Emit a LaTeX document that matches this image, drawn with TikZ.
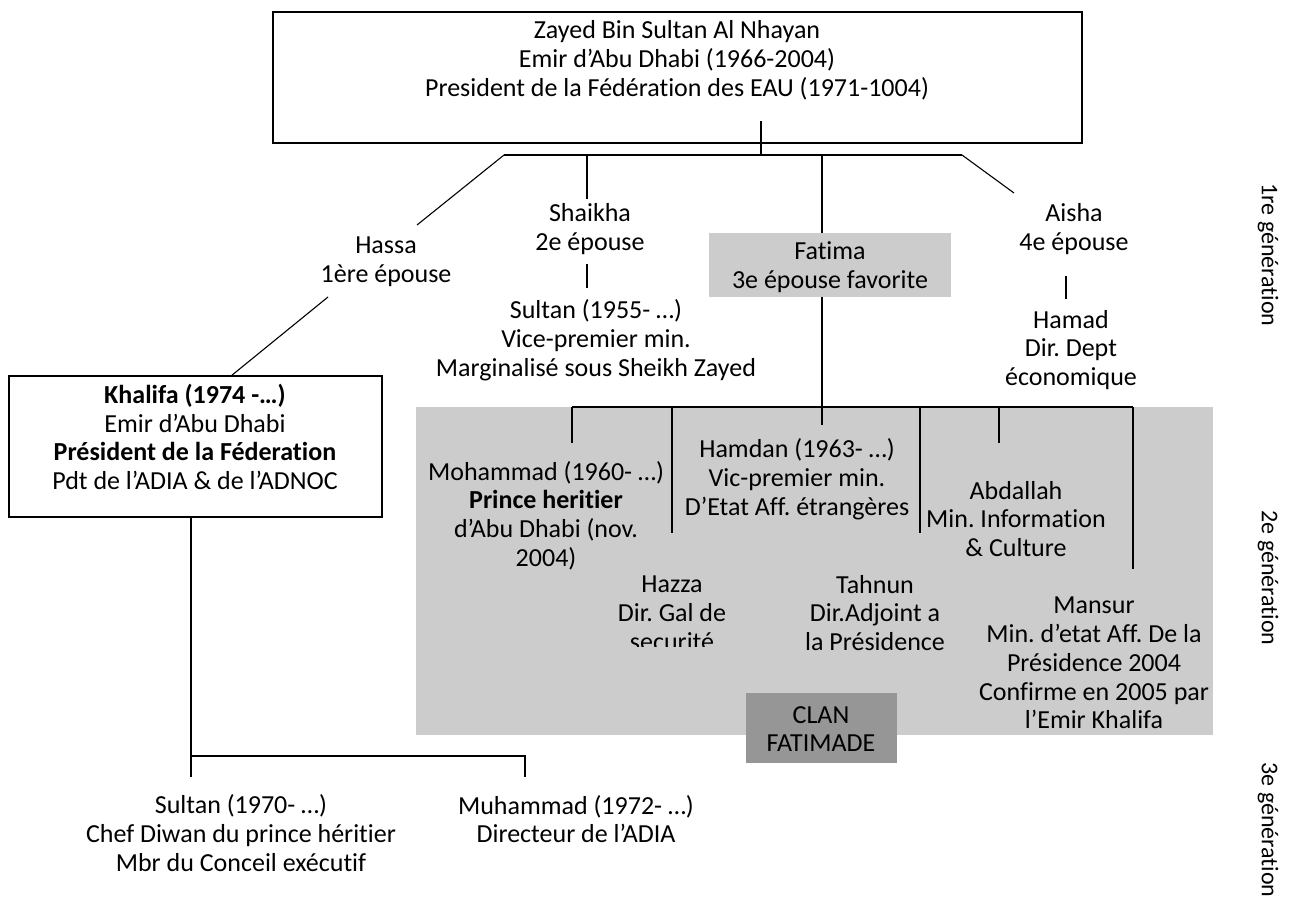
\documentclass[tikz,border=0pt]{standalone}
\usepackage{fontspec}
\setmainfont{Carlito}[Ligatures={TeX,CommonOff}]
\definecolor{clanlight}{RGB}{204,204,204}
\definecolor{clandark}{RGB}{150,150,150}
\newcommand{\txtfont}{\fontsize{26}{28.8}\selectfont\frenchspacing}
\newcommand{\genfont}{\fontsize{24}{26}\selectfont}
\tikzset{
  txt/.style={align=center, inner sep=0pt, font=\txtfont},
  frame/.style={draw, line width=1.7pt, inner sep=0pt},
  conn/.style={line width=1.1pt},
  vlabel/.style={rotate=-90, anchor=center, inner sep=0pt, font=\genfont}
}
\begin{document}
\begin{tikzpicture}[x=1pt,y=-1pt]
\useasboundingbox (0,0) rectangle (1299,918);
% ---- backgrounds
\node[fill=clanlight, minimum width=797pt, minimum height=328pt, inner sep=0pt] (clan) at (814.5,571) {};
\node[fill=clanlight, minimum width=242pt, minimum height=64pt, inner sep=0pt] (fatimabox) at (830,265) {};
% ---- top box
\node[frame, minimum width=809pt, minimum height=131pt] (zayed) at (677.5,77.5) {};
\node[txt] (zayedtxt) at (677,60) {Zayed Bin Sultan Al Nhayan\\Emir d’Abu Dhabi (1966-2004)\\President de la Fédération des EAU (1971-1004)};
\coordinate (zstem) at (761,121);
\coordinate (barL) at (504,155);
\coordinate (barR) at (962,155);
\draw[conn] (zstem) -- (zstem |- barL);
\draw[conn] (barL) -- (barR);
% ---- first generation
\coordinate (hassatop) at (417,225);
\node[txt] (hassa) at (386,262) {Hassa\\1ère épouse};
\coordinate (hassabot) at (328,297);
\draw[conn] (barL) -- (hassatop);

\coordinate (shaikhatop) at (587,199);
\node[txt] (shaikha) at (590,229) {Shaikha\\2e épouse};
\draw[conn] (shaikhatop |- barL) -- (shaikhatop);
\coordinate (sultanAtop) at (587,264);
\coordinate (sultanAbot) at (587,288);
\draw[conn] (sultanAtop) -- (sultanAbot);
\node[txt] (sultanA) at (596,340) {Sultan (1955- …)\\Vice-premier min.\\Marginalisé sous Sheikh Zayed};

\node[txt] (fatima) at (830,267) {Fatima\\3e épouse favorite};
\coordinate (fatbar) at (822,155);
\draw[conn] (fatbar) -- (fatimabox.north -| fatbar);
\coordinate (fatlow) at (822,425);
\draw[conn] (fatimabox.south -| fatbar) -- (fatlow);

\coordinate (aishatop) at (1014,193);
\draw[conn] (barR) -- (aishatop);
\node[txt] (aisha) at (1074,229) {Aisha\\4e épouse};
\coordinate (hamadtop) at (1066,276);
\coordinate (hamadbot) at (1066,299);
\draw[conn] (hamadtop) -- (hamadbot);
\node[txt] (hamad) at (1071,350) {Hamad\\Dir. Dept\\économique};

% ---- Khalifa
\node[frame, minimum width=373pt, minimum height=141pt] (khalifa) at (195.5,446.5) {};
\node[txt] (khalifatxt) at (195,437) {\textbf{Khalifa (1974 -…)}\\Emir d’Abu Dhabi\\\textbf{Président de la Féderation}\\Pdt de l’ADIA \& de l’ADNOC};
\draw[conn] (hassabot) -- (khalifa.north -| 232,0);
\coordinate (kbarL) at (191,756);
\coordinate (kbarR) at (525,756);
\draw[conn] (khalifa.south -| kbarL) -- (191,777) coordinate (kstubL);
\draw[conn] (kbarL) -- (kbarR) -- (525,777) coordinate (kstubR);
\node[txt] (sultanB) at (241,833) {Sultan (1970- …)\\Chef Diwan du prince héritier\\Mbr du Conceil exécutif};
\node[txt] (muhammad) at (576,819) {Muhammad (1972- …)\\Directeur de l’ADIA};

% ---- second generation (clan)
\coordinate (cbarL) at (572,407);
\coordinate (cbarR) at (1133,407);
\draw[conn] (cbarL) -- (cbarR);
\draw[conn] (cbarL) -- (572,443) coordinate (mohtop);
\draw[conn] (672,407) -- (672,533) coordinate (hazzatop);
\draw[conn] (920,407) -- (920,533) coordinate (tahnuntop);
\draw[conn] (999,407) -- (999,443) coordinate (abdtop);
\draw[conn] (cbarR) -- (1133,569) coordinate (mansurtop);

\node[txt] (mohammad) at (546,515.5) {Mohammad (1960- …)\\\textbf{Prince heritier}\\d’Abu Dhabi (nov.\\2004)};
\node[txt] (hamdan) at (797,479) {Hamdan (1963- …)\\Vic-premier min.\\D’Etat Aff. étrangères};
\node[txt] (abdallah) at (1016,519) {Abdallah\\Min. Information\\\& Culture};
\begin{scope}
\clip (590,550) rectangle (760,646);
\node[txt] (hazza) at (672,613) {Hazza\\Dir. Gal de\\securité};
\end{scope}
\node[txt] (tahnun) at (875,613) {Tahnun\\Dir.Adjoint a\\la Présidence};
\node[txt] (mansur) at (1094,663) {Mansur\\Min. d’etat Aff. De la\\Présidence 2004\\Confirme en 2005 par\\l’Emir Khalifa};

\node[fill=clandark, minimum width=151pt, minimum height=70pt, inner sep=0pt] (clanlabel) at (821.5,728) {};
\node[txt] (clantxt) at (821,729) {CLAN\\FATIMADE};

% ---- generation labels
\node[vlabel] (gen1) at (1268,255) {1re génération};
\node[vlabel] (gen2) at (1268,578) {2e génération};
\node[vlabel] (gen3) at (1268,830) {3e génération};
\end{tikzpicture}
\end{document}
